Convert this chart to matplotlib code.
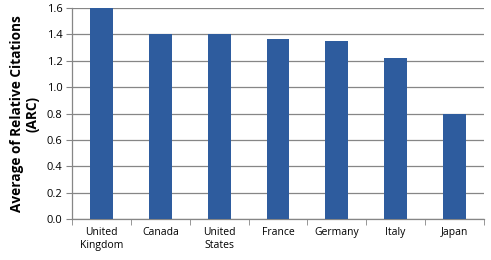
import numpy as np
import matplotlib
matplotlib.use("Agg")
import matplotlib.pyplot as plt

countries = ["United\nKingdom", "Canada", "United\nStates", "France", "Germany", "Italy", "Japan"]
arc = [1.60, 1.40, 1.40, 1.365, 1.35, 1.22, 0.80]
yticks = [0.0, 0.2, 0.4, 0.6, 0.8, 1.0, 1.2, 1.4, 1.6]

bar_color = "#2E5C9E"
grid_color = "#868686"

plt.rcParams["font.family"] = ["Open Sans", "DejaVu Sans"]

fig = plt.figure(figsize=(4.91, 2.60), dpi=100)
ax = fig.add_axes([72.3 / 491, 1 - 219 / 260, (483.7 - 72.3) / 491, (219 - 8) / 260])

x = np.arange(len(countries))
ax.bar(x, arc, width=0.39, color=bar_color, zorder=3)

ax.set_xlim(-0.5, len(countries) - 0.5)
ax.set_ylim(0, 1.6)
ax.set_yticks(yticks)
ax.set_yticklabels([f"{v:.1f}" for v in yticks], fontsize=8)
ax.set_xticks(x)
ax.set_xticklabels(countries, fontsize=7.5, linespacing=1.2)
ax.set_xticks(np.arange(len(countries) + 1) - 0.5, minor=True)
ax.tick_params(axis="x", which="major", length=0, pad=6)
ax.tick_params(axis="x", which="minor", length=4, color=grid_color, direction="out")
ax.tick_params(axis="y", length=4, color=grid_color, direction="out", pad=3)

ax.yaxis.grid(True, color=grid_color, linewidth=0.9, zorder=0)
for s in ["top", "right"]:
    ax.spines[s].set_visible(False)
for s in ["left", "bottom"]:
    ax.spines[s].set_color(grid_color)
    ax.spines[s].set_linewidth(0.9)

ax.set_ylabel("Average of Relative Citations\n(ARC)", fontsize=9.8, fontweight="bold",
              linespacing=1.15, labelpad=5)

fig.savefig("out.png", dpi=100)
